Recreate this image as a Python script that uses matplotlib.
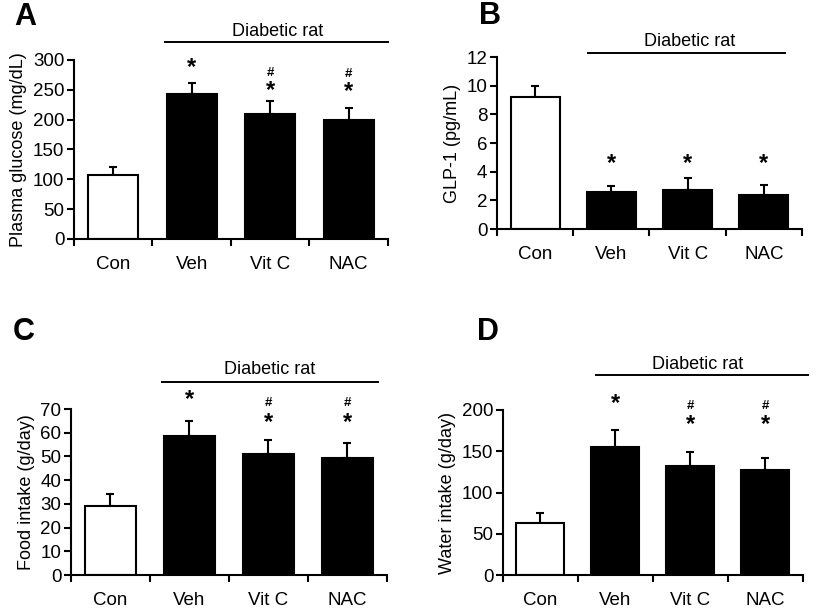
import matplotlib
matplotlib.use("Agg")
import matplotlib.pyplot as plt
import matplotlib.transforms as mtransforms

plt.rcParams['font.family'] = ['Liberation Sans', 'DejaVu Sans']

groups = ['Con', 'Veh', 'Vit C', 'NAC']

glucose = [107, 243, 210, 200]
glucose_err = [14, 18, 22, 19]
glp1 = [9.2, 2.55, 2.75, 2.4]
glp1_err = [0.8, 0.45, 0.8, 0.7]
food = [29, 58.5, 51, 49.5]
food_err = [5, 6.5, 6, 6]
water = [63, 155, 132, 127]
water_err = [12, 21, 17, 15]

# significance marks: (group index, y value, symbol)
glucose_marks = [(1, 287, '*'), (2, 249, '*'), (3, 247, '*'), (2, 279, '#'), (3, 277, '#')]
glp1_marks = [(1, 4.6, '*'), (2, 4.6, '*'), (3, 4.6, '*')]
food_marks = [(1, 73.8, '*'), (2, 64.5, '*'), (3, 64.5, '*'), (2, 72.5, '#'), (3, 72.5, '#')]
water_marks = [(1, 208, '*'), (2, 182, '*'), (3, 182, '*'), (2, 205, '#'), (3, 205, '#')]

W, H = 820, 612
fig = plt.figure(figsize=(W / 100, H / 100), dpi=100)


def px_axes(left, right, bottom, top):
    return fig.add_axes([left / W, 1 - bottom / H, (right - left) / W, (bottom - top) / H])


def draw_panel(ax, vals, errs, marks, ylim, step, ylabel, bar_x, bar_y, text_x, text_y):
    x = [i + 0.5 for i in range(len(vals))]
    colors = ['white', 'black', 'black', 'black']
    ax.bar(x, vals, width=0.64, color=colors, edgecolor='black', linewidth=1.5, zorder=2)
    ax.errorbar(x, vals, yerr=[[0] * len(errs), errs], fmt='none', ecolor='black',
                elinewidth=1.5, capsize=3, capthick=1.5, zorder=1)
    ax.set_xlim(0, 4)
    ax.set_ylim(*ylim)
    ax.set_yticks(range(ylim[0], ylim[1] + 1, step))
    ax.set_xticks([0, 1, 2, 3, 4])
    ax.set_xticklabels([])
    ax.set_xticks(x, minor=True)
    ax.set_xticklabels(groups, minor=True, fontsize=13.5)
    ax.tick_params(axis='x', which='minor', length=0, pad=12)
    ax.tick_params(axis='x', which='major', length=5, width=1.5, direction='out')
    ax.tick_params(axis='y', length=5, width=1.5, direction='out', labelsize=13.5, pad=2)
    for s in ['top', 'right']:
        ax.spines[s].set_visible(False)
    for s in ['left', 'bottom']:
        ax.spines[s].set_linewidth(1.5)
    ax.set_ylabel(ylabel, fontsize=13, labelpad=4)

    for i, yv, sym in marks:
        if sym == '*':
            ax.text(i + 0.5, yv, '*', ha='center', va='center', fontsize=17,
                    fontweight='bold', clip_on=False)
        else:
            ax.text(i + 0.5, yv, '#', ha='center', va='center', fontsize=9.5,
                    fontweight='bold', clip_on=False)

    trans = mtransforms.blended_transform_factory(ax.transData, ax.transAxes)
    ax.plot(bar_x, [bar_y, bar_y], color='black', lw=1.4, transform=trans, clip_on=False)
    ax.text(text_x, text_y, 'Diabetic rat', transform=trans, ha='center', va='center',
            fontsize=13)


axA = px_axes(74, 388, 239, 60)
draw_panel(axA, glucose, glucose_err, glucose_marks, (0, 300), 50, 'Plasma glucose (mg/dL)',
           [1.16, 4.0], 1.10, 2.6, 1.16)

axB = px_axes(497, 802, 229, 57)
draw_panel(axB, glp1, glp1_err, glp1_marks, (0, 12), 2, 'GLP-1 (pg/mL)',
           [1.19, 3.78], 1.023, 2.53, 1.09)

axC = px_axes(71, 387, 575, 409)
draw_panel(axC, food, food_err, food_marks, (0, 70), 10, 'Food intake (g/day)',
           [1.15, 3.89], 1.163, 2.52, 1.235)

axD = px_axes(503, 803, 575, 410)
draw_panel(axD, water, water_err, water_marks, (0, 200), 50, 'Water intake (g/day)',
           [1.24, 4.07], 1.212, 2.59, 1.275)

for lbl, cx, cy in [('A', 25, 17), ('B', 490, 16), ('C', 24, 332), ('D', 488, 332)]:
    fig.text(cx / W, 1 - cy / H, lbl, ha='center', va='center', fontsize=22, fontweight='bold')

fig.savefig('out.png', dpi=100)
